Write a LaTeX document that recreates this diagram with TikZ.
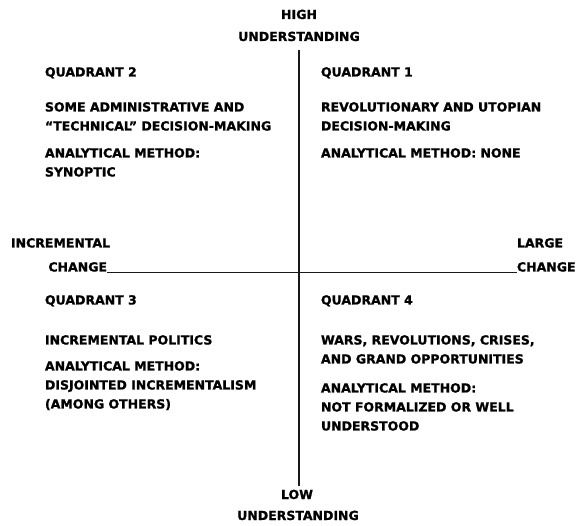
\documentclass[tikz,border=0pt]{standalone}
\usepackage{fontspec}
\setmainfont{DejaVu Sans}[BoldFeatures={FakeBold=1.2}]
\begin{document}
\begin{tikzpicture}[x=1pt,y=-1pt,
  lab/.style={inner sep=0pt,outer sep=0pt,anchor=base west,text=black,
    font=\fontsize{12.5}{12.5}\selectfont\bfseries},
  labc/.style={lab,anchor=base},
  axis/.style={draw=black!90,line width=1.7pt},
  haxis/.style={draw=black!90,line width=1.2pt}]
\useasboundingbox[fill=white] (0,0) rectangle (581,526);
% vertical axis labels
\node[labc] (high) at (299,19) {HIGH};
\node[labc] (hund) at (299,41) {UNDERSTANDING};
\node[labc] (low) at (297,499) {LOW};
\node[labc] (lund) at (298,520) {UNDERSTANDING};
\coordinate (vt) at (299,50);
\coordinate (vb) at (299,486);
\draw[axis] (vt) -- (vb);
% horizontal axis labels
\node[lab] (incr) at (11,247.5) {INCREMENTAL};
\node[lab,anchor=base east] (chgL) at (107,271.5) {CHANGE};
\node[lab] (large) at (517,247.5) {LARGE};
\node[lab] (chgR) at (517,271.5) {CHANGE};
\draw[haxis] ([yshift=-0.8pt]chgL.base east) -- ([yshift=-0.8pt]chgR.base west);
% quadrant 2
\node[lab] (q2) at (45,76.5) {QUADRANT 2};
\node[lab] (q2a) at (45,111.5) {SOME ADMINISTRATIVE AND};
\node[lab] (q2b) at (45,130.5) {``TECHNICAL'' DECISION-MAKING};
\node[lab] (q2c) at (45,157.5) {ANALYTICAL METHOD:};
\node[lab] (q2d) at (45,176.5) {SYNOPTIC};
% quadrant 1
\node[lab] (q1) at (321,76.5) {QUADRANT 1};
\node[lab] (q1a) at (321,111.5) {REVOLUTIONARY AND UTOPIAN};
\node[lab] (q1b) at (321,130.5) {DECISION-MAKING};
\node[lab] (q1c) at (321,157.5) {ANALYTICAL METHOD: NONE};
% quadrant 3
\node[lab] (q3) at (45,304.5) {QUADRANT 3};
\node[lab] (q3a) at (45,344.5) {INCREMENTAL POLITICS};
\node[lab] (q3b) at (45,370.5) {ANALYTICAL METHOD:};
\node[lab] (q3c) at (45,389.5) {DISJOINTED INCREMENTALISM};
\node[lab] (q3d) at (45,408.5) {(AMONG OTHERS)};
% quadrant 4
\node[lab] (q4) at (321,304.5) {QUADRANT 4};
\node[lab] (q4a) at (321,344.5) {WARS, REVOLUTIONS, CRISES,};
\node[lab] (q4b) at (321,363.5) {AND GRAND OPPORTUNITIES};
\node[lab] (q4c) at (321,392.5) {ANALYTICAL METHOD:};
\node[lab] (q4d) at (321,411.5) {NOT FORMALIZED OR WELL};
\node[lab] (q4e) at (321,430.5) {UNDERSTOOD};
\end{tikzpicture}
\end{document}
